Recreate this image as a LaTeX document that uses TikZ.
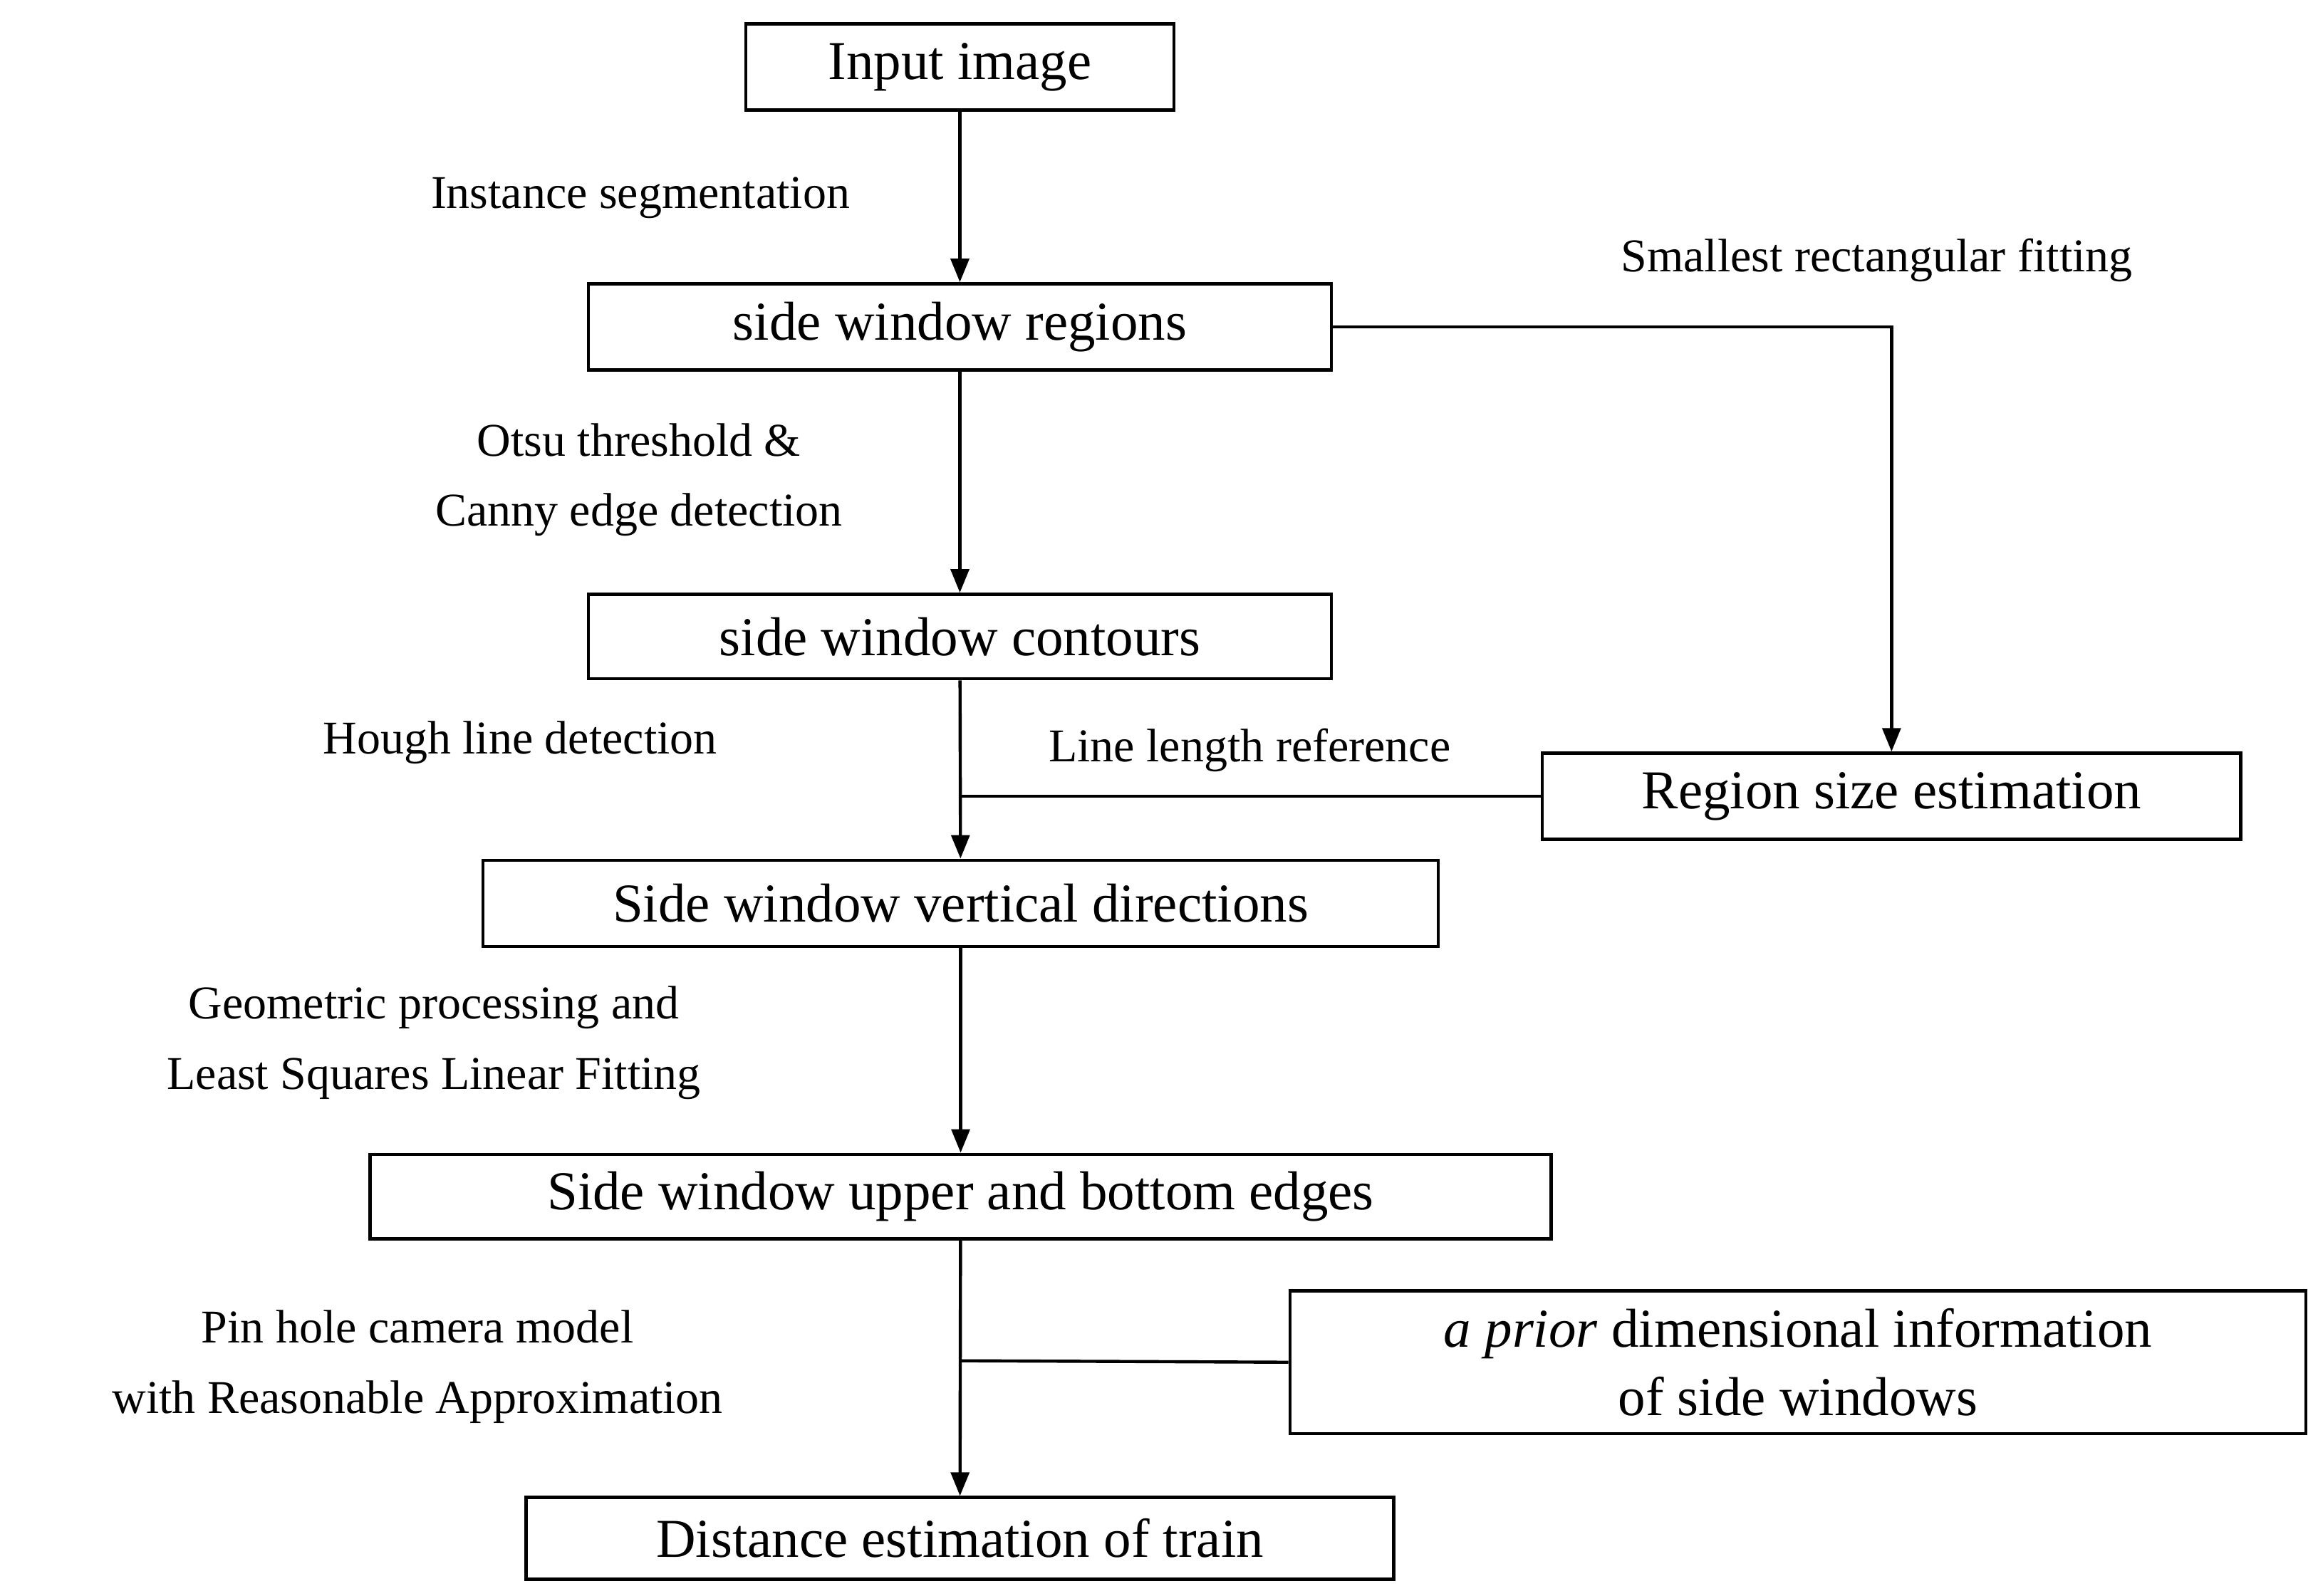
\documentclass[tikz,border=0pt]{standalone}
\usepackage{fontspec}
\setmainfont{Liberation Serif}
\usetikzlibrary{arrows.meta}
\begin{document}
\begin{tikzpicture}[x=0.02cm,y=-0.02cm,
 box/.style={draw,line width=1.2pt,inner sep=0pt,font=\fontsize{21}{26}\selectfont},
 lab/.style={font=\fontsize{18}{27}\selectfont,align=center,inner sep=0pt},
 arr/.style={line width=1.2pt,-{Triangle[length=9pt,width=7pt]}},
 ln/.style={line width=1.2pt}]
\useasboundingbox (0,0) rectangle (1560,1074);
\node[box,minimum width=288\pgflinewidth,minimum width=5.76cm,minimum height=1.16cm] (in) at (646,45) {Input image};
\node[box,minimum width=10cm,minimum height=1.16cm] (reg) at (646,220) {side window regions};
\node[box,minimum width=10cm,minimum height=1.14cm] (con) at (646,428.5) {side window contours};
\node[box,minimum width=9.4cm,minimum height=1.16cm] (rse) at (1273,536) {Region size estimation};
\node[box,minimum width=12.86cm,minimum height=1.16cm] (vd) at (646.5,608) {Side window vertical directions};
\node[box,minimum width=15.9cm,minimum height=1.14cm] (ub) at (646.5,805.5) {Side window upper and bottom edges};
\node[box,minimum width=13.68cm,minimum height=1.92cm,align=center] (ap) at (1210,917) {\textit{a prior} dimensional information\\of side windows};
\node[box,minimum width=11.68cm,minimum height=1.1cm] (de) at (646,1035.5) {Distance estimation of train};
\coordinate (j1) at (646,536);
\coordinate (j2) at (646,916);
\coordinate (c1) at (1273,220);
\draw[arr] (in) -- (reg);
\draw[arr] (reg) -- (con);
\draw[arr] (con) -- (vd);
\draw[arr] (vd) -- (ub);
\draw[arr] (ub) -- (de);
\draw[arr] (reg.east) -- (c1) -- (rse.north);
\draw[ln] (rse.west) -- (j1);
\draw[ln] (ap.west) -- (j2);
\node[lab] (l1) at (431,133) {Instance segmentation};
\node[lab] (l2) at (1263,175) {Smallest rectangular fitting};
\node[lab] (l3) at (430,323) {Otsu threshold \&\\Canny edge detection};
\node[lab] (l4) at (350,500) {Hough line detection};
\node[lab] (l5) at (841,505) {Line length reference};
\node[lab] (l6) at (292,702) {Geometric processing and\\Least Squares Linear Fitting};
\node[lab] (l7) at (281,920) {Pin hole camera model\\with Reasonable Approximation};
\end{tikzpicture}
\end{document}
